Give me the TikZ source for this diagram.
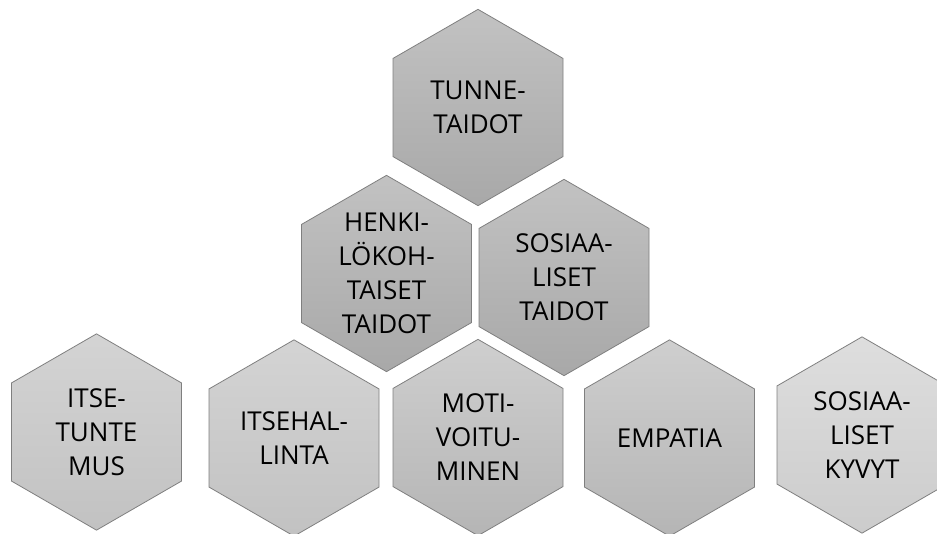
\documentclass[tikz,border=0pt]{standalone}
\usepackage{fontspec}
\setmainfont{Open Sans}
\usepackage{tikz}
\usetikzlibrary{shapes.geometric}
\definecolor{hexline}{HTML}{7F7F7F}
\tikzset{
  hexa/.style     ={regular polygon,regular polygon sides=6,shape border rotate=30,draw=hexline,line width=0.8pt,
                    minimum size=196.3pt,inner sep=-10pt,align=center,text=black,
                    font=\fontsize{26}{34}\selectfont},
  hexdark/.style  ={hexa,top color=black!24,bottom color=black!34},
  hexmid/.style   ={hexa,top color=black!19,bottom color=black!29},
  hexlight/.style ={hexa,top color=black!17,bottom color=black!24},
  hexpale/.style  ={hexa,top color=black!13,bottom color=black!20}
}
\begin{document}
\begin{tikzpicture}[x=1pt,y=-1pt]
    \useasboundingbox (0,0) rectangle (937,533);
    \clip (0,0) rectangle (937,533);
    % top of the pyramid
    \node[hexdark]  (tunne)     at (478,107.5) {TUNNE-\\TAIDOT};
    % middle row
    \node[hexdark]  (henk)      at (386.5,273.5) {HENKI-\\LÖKOH-\\TAISET\\TAIDOT};
    \node[hexdark]  (sostaidot) at (564,277.5) {SOSIAA-\\LISET\\TAIDOT};
    % bottom row
    \node[hexlight] (itsetunt)  at (96.5,432) {ITSE-\\TUNTE\\MUS};
    \node[hexlight] (itsehal)   at (294,438) {ITSEHAL-\\LINTA};
    \node[hexmid]   (motiv)     at (478,437.5) {MOTI-\\VOITU-\\MINEN};
    \node[hexmid]   (empatia)   at (669.5,438) {EMPATIA};
    \node[hexpale]  (soskyvyt)  at (862,435) {SOSIAA-\\LISET\\KYVYT};
  \end{tikzpicture}
\end{document}
